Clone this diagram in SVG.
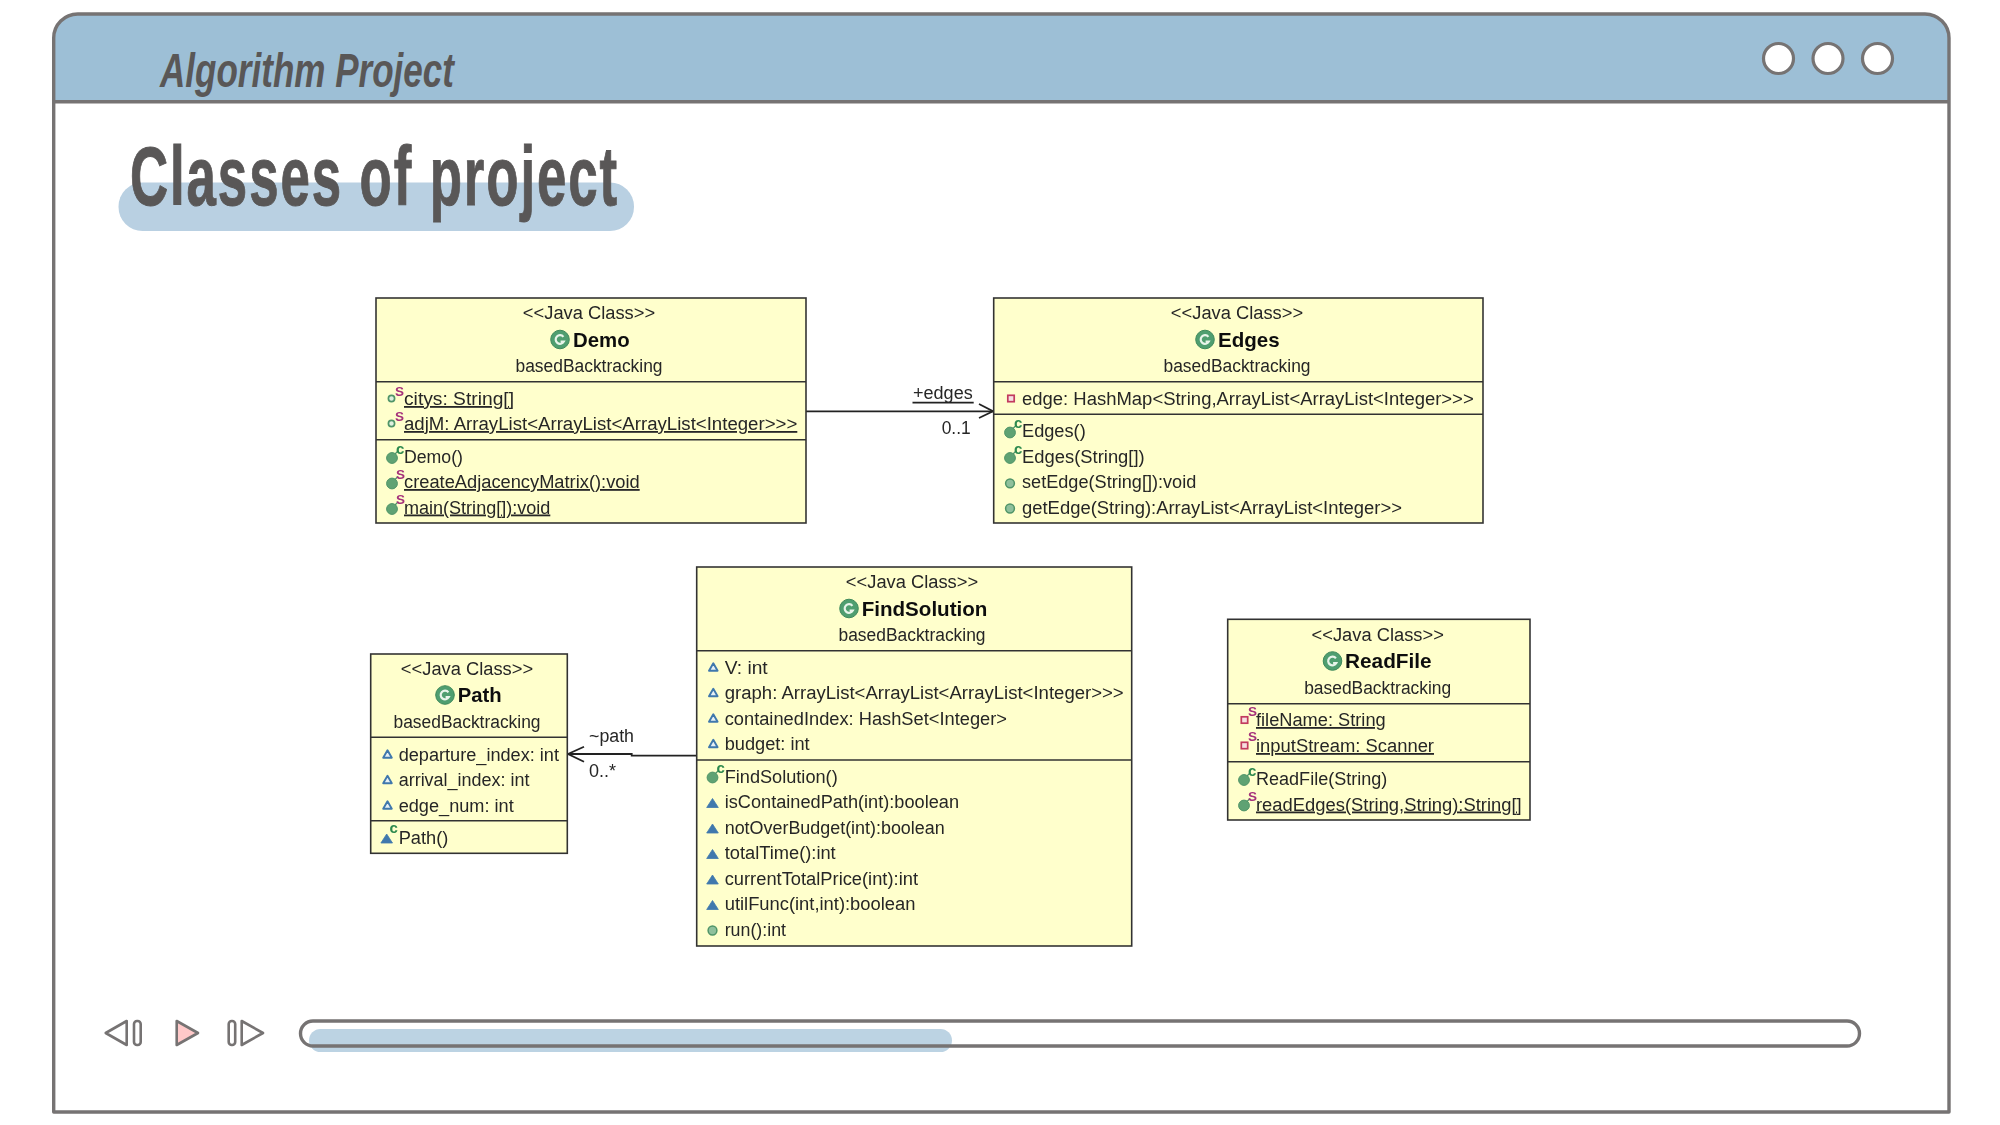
<svg xmlns="http://www.w3.org/2000/svg" width="2000" height="1125" viewBox="0 0 2000 1125">
<style>
.frame{fill:none;stroke:#767373;stroke-width:3.4;stroke-linejoin:round}
.ctl{fill:#fff;stroke:#767373;stroke-width:2.6;stroke-linejoin:round}
.box{fill:#ffffcc;stroke:#333;stroke-width:1.6}
.div{stroke:#333;stroke-width:1.6}
text{font-family:"Liberation Sans",Arial,sans-serif;fill:#262626;font-size:18px}
.h{text-anchor:middle}
.n{font-weight:700;font-size:20.5px;fill:#111}
.u{text-decoration:underline}
.big{font-weight:700;fill:#595757;font-family:"Liberation Sans Narrow","Liberation Sans",sans-serif}
.s{font-size:13.5px;fill:#a5307a;font-weight:700}
.c{font-size:15px;fill:#2f8a4f;font-weight:700}
.conn{fill:none;stroke:#222;stroke-width:1.8}
.soft{filter:url(#soft)}
</style>
<defs>
<filter id="soft" x="-5%" y="-5%" width="110%" height="110%"><feGaussianBlur stdDeviation="0.4"/></filter>
<g id="cls"><circle r="9.3" fill="#4f9e6f" stroke="#3f8a5c" stroke-width="1"/><path d="M3.4 -2.6A4.3 4.3 0 1 0 3.8 2H0.6" fill="none" stroke="#e8f4ea" stroke-width="2.2"/></g>
<g id="pubf"><circle r="3.1" fill="#dff0df" stroke="#4f9468" stroke-width="1.7"/></g>
<g id="pubm"><circle r="5.4" fill="#5fa273" stroke="#4f9468" stroke-width="1"/><path d="M3 -4L6 -7" stroke="#4f9468" stroke-width="1.2"/></g>
<g id="pubm2"><circle r="4.4" fill="#8fc09c" stroke="#4f9468" stroke-width="1.5"/></g>
<g id="prif"><rect x="-3.2" y="-3.2" width="6.4" height="6.4" fill="#f6dfe0" stroke="#c23a5f" stroke-width="1.7"/></g>
<g id="tri0"><path d="M0 -4.2L4.3 3.2H-4.3Z" fill="#e6f0f6" stroke="#3f78ad" stroke-width="1.9" stroke-linejoin="round"/></g>
<g id="tri1"><path d="M0 -5L5.8 4H-5.8Z" fill="#3f78ad" stroke="#3f78ad" stroke-width="0.8" stroke-linejoin="round"/></g>
</defs>

<g id="window">
<rect x="53.7" y="14" width="1895.3" height="1098" fill="#fff" stroke="none"/>
<path d="M53.7 101.7V38A24 24 0 0 1 77.7 14H1925A24 24 0 0 1 1949 38V101.7Z" fill="#9dbfd6"/>
<path class="frame" d="M53.7 1112V38A24 24 0 0 1 77.7 14H1925A24 24 0 0 1 1949 38V1112Z"/>
<line class="frame" x1="53.7" y1="101.7" x2="1949" y2="101.7"/>
<circle cx="1778.5" cy="58.5" r="15" class="ctl" style="stroke-width:3.2"/>
<circle cx="1828" cy="58.5" r="15" class="ctl" style="stroke-width:3.2"/>
<circle cx="1877.5" cy="58.5" r="15" class="ctl" style="stroke-width:3.2"/>
<text class="big" x="160" y="87" style="font-size:49px;font-style:italic" textLength="294" lengthAdjust="spacingAndGlyphs">Algorithm Project</text>
<rect x="118.5" y="182.5" width="515.5" height="48.5" rx="24" fill="#b9d0e2"/>
<text class="big" x="130" y="205" style="font-size:84px;letter-spacing:3px;stroke:#595757;stroke-width:1px" textLength="489" lengthAdjust="spacingAndGlyphs">Classes of project</text>
</g>

<g id="player">
<path class="ctl" d="M105.7 1033L126.7 1021V1045Z"/>
<rect class="ctl" x="134" y="1021" width="6.7" height="24" rx="3"/>
<path class="ctl" style="fill:#ffc9c9" d="M176.7 1021L198 1033L176.7 1045Z"/>
<rect class="ctl" x="228.7" y="1021" width="6.5" height="24" rx="3"/>
<path class="ctl" d="M241.7 1021L263 1033L241.7 1045Z"/>
<rect x="300.5" y="1021" width="1559" height="25" rx="12.5" fill="#fff"/>
<rect x="309" y="1029" width="643" height="23" rx="11.5" fill="#bcd3e3"/>
<rect x="300.5" y="1021" width="1559" height="25" rx="12.5" fill="none" stroke="#767373" stroke-width="3.4"/>
</g>

<g id="connectors" class="soft">
<path class="conn" d="M806 411.3H993"/>
<path class="conn" d="M979 404L993 411.3L979 418"/>
<path class="conn" d="M696.7 755.7H631.7V754H568"/>
<path class="conn" d="M584 746.7L568 754L584 761.7"/>
<path class="conn" d="M912.5 402.7H973.7"/>
<text x="913" y="399.3" textLength="59.7" lengthAdjust="spacingAndGlyphs">+edges</text>
<text x="941.7" y="434.3" textLength="29" lengthAdjust="spacingAndGlyphs">0..1</text>
<text x="589" y="742.3" textLength="45" lengthAdjust="spacingAndGlyphs">~path</text>
<text x="589" y="777.3" textLength="27" lengthAdjust="spacingAndGlyphs">0..*</text>
</g>

<g id="Demo" class="soft">
<rect class="box" x="376" y="298" width="430" height="225"/>
<line class="div" x1="376" y1="381.7" x2="806" y2="381.7"/>
<line class="div" x1="376" y1="439.7" x2="806" y2="439.7"/>
<text class="h" x="589" y="319" textLength="132.3" lengthAdjust="spacingAndGlyphs">&lt;&lt;Java Class&gt;&gt;</text>
<use href="#cls" x="560" y="339.5"/>
<text class="n" x="573" y="346.5" textLength="56.7" lengthAdjust="spacingAndGlyphs">Demo</text>
<text class="h" x="589" y="372" textLength="147" lengthAdjust="spacingAndGlyphs">basedBacktracking</text>
<use href="#pubf" x="391.5" y="398.5"/><text class="s" x="395" y="395.5">S</text><text class="u" x="404" y="405" textLength="110" lengthAdjust="spacingAndGlyphs">citys: String[]</text>
<use href="#pubf" x="391.5" y="423.5"/><text class="s" x="395" y="420.5">S</text><text class="u" x="404" y="430" textLength="393.3" lengthAdjust="spacingAndGlyphs">adjM: ArrayList&lt;ArrayList&lt;ArrayList&lt;Integer&gt;&gt;&gt;</text>
<use href="#pubm" x="392" y="458"/><text class="c" x="396" y="453.5">c</text><text x="404" y="462.5" textLength="59" lengthAdjust="spacingAndGlyphs">Demo()</text>
<use href="#pubm" x="392" y="483.5"/><text class="s" x="396" y="478.5">S</text><text class="u" x="404" y="488" textLength="235.7" lengthAdjust="spacingAndGlyphs">createAdjacencyMatrix():void</text>
<use href="#pubm" x="392" y="509"/><text class="s" x="396" y="504">S</text><text class="u" x="404" y="513.5" textLength="146.3" lengthAdjust="spacingAndGlyphs">main(String[]):void</text>
</g>

<g id="Edges" class="soft">
<rect class="box" x="993.7" y="298" width="489.3" height="225"/>
<line class="div" x1="993.7" y1="381.7" x2="1483" y2="381.7"/>
<line class="div" x1="993.7" y1="414.3" x2="1483" y2="414.3"/>
<text class="h" x="1237" y="319" textLength="132.3" lengthAdjust="spacingAndGlyphs">&lt;&lt;Java Class&gt;&gt;</text>
<use href="#cls" x="1205" y="339.5"/>
<text class="n" x="1218" y="346.5" textLength="61.7" lengthAdjust="spacingAndGlyphs">Edges</text>
<text class="h" x="1237" y="372" textLength="147" lengthAdjust="spacingAndGlyphs">basedBacktracking</text>
<use href="#prif" x="1011" y="398.5"/><text x="1022" y="404.7" textLength="451.7" lengthAdjust="spacingAndGlyphs">edge: HashMap&lt;String,ArrayList&lt;ArrayList&lt;Integer&gt;&gt;&gt;</text>
<use href="#pubm" x="1010" y="432.5"/><text class="c" x="1014" y="428">c</text><text x="1022" y="437" textLength="63.7" lengthAdjust="spacingAndGlyphs">Edges()</text>
<use href="#pubm" x="1010" y="458"/><text class="c" x="1014" y="453.5">c</text><text x="1022" y="462.5" textLength="122.7" lengthAdjust="spacingAndGlyphs">Edges(String[])</text>
<use href="#pubm2" x="1010" y="483.3"/><text x="1022" y="488" textLength="174.3" lengthAdjust="spacingAndGlyphs">setEdge(String[]):void</text>
<use href="#pubm2" x="1010" y="508.5"/><text x="1022" y="513.5" textLength="380" lengthAdjust="spacingAndGlyphs">getEdge(String):ArrayList&lt;ArrayList&lt;Integer&gt;&gt;</text>
</g>

<g id="FindSolution" class="soft">
<rect class="box" x="696.7" y="567" width="435" height="379"/>
<line class="div" x1="696.7" y1="650.7" x2="1131.7" y2="650.7"/>
<line class="div" x1="696.7" y1="760" x2="1131.7" y2="760"/>
<text class="h" x="912" y="587.7" textLength="132.3" lengthAdjust="spacingAndGlyphs">&lt;&lt;Java Class&gt;&gt;</text>
<use href="#cls" x="849" y="608.5"/>
<text class="n" x="861.7" y="615.5" textLength="125.7" lengthAdjust="spacingAndGlyphs">FindSolution</text>
<text class="h" x="912" y="641" textLength="147" lengthAdjust="spacingAndGlyphs">basedBacktracking</text>
<use href="#tri0" x="713.3" y="667.5"/><text x="724.7" y="673.5" textLength="43" lengthAdjust="spacingAndGlyphs">V: int</text>
<use href="#tri0" x="713.3" y="693"/><text x="724.7" y="699.2" textLength="399" lengthAdjust="spacingAndGlyphs">graph: ArrayList&lt;ArrayList&lt;ArrayList&lt;Integer&gt;&gt;&gt;</text>
<use href="#tri0" x="713.3" y="718.5"/><text x="724.7" y="724.7" textLength="282.3" lengthAdjust="spacingAndGlyphs">containedIndex: HashSet&lt;Integer&gt;</text>
<use href="#tri0" x="713.3" y="744"/><text x="724.7" y="750.2" textLength="85" lengthAdjust="spacingAndGlyphs">budget: int</text>
<use href="#pubm" x="712.5" y="777.5"/><text class="c" x="716.5" y="773">c</text><text x="724.7" y="782.8" textLength="113" lengthAdjust="spacingAndGlyphs">FindSolution()</text>
<use href="#tri1" x="712.5" y="803.5"/><text x="724.7" y="808.3" textLength="234.3" lengthAdjust="spacingAndGlyphs">isContainedPath(int):boolean</text>
<use href="#tri1" x="712.5" y="829"/><text x="724.7" y="833.8" textLength="220" lengthAdjust="spacingAndGlyphs">notOverBudget(int):boolean</text>
<use href="#tri1" x="712.5" y="854.5"/><text x="724.7" y="859.3" textLength="111" lengthAdjust="spacingAndGlyphs">totalTime():int</text>
<use href="#tri1" x="712.5" y="880"/><text x="724.7" y="884.8" textLength="193.3" lengthAdjust="spacingAndGlyphs">currentTotalPrice(int):int</text>
<use href="#tri1" x="712.5" y="905.5"/><text x="724.7" y="910.3" textLength="190.7" lengthAdjust="spacingAndGlyphs">utilFunc(int,int):boolean</text>
<use href="#pubm2" x="712.5" y="930.5"/><text x="724.7" y="935.8" textLength="61.3" lengthAdjust="spacingAndGlyphs">run():int</text>
</g>

<g id="Path" class="soft">
<rect class="box" x="370.7" y="654" width="196.6" height="199.3"/>
<line class="div" x1="370.7" y1="737.3" x2="567.3" y2="737.3"/>
<line class="div" x1="370.7" y1="820.7" x2="567.3" y2="820.7"/>
<text class="h" x="467" y="675" textLength="132.3" lengthAdjust="spacingAndGlyphs">&lt;&lt;Java Class&gt;&gt;</text>
<use href="#cls" x="445" y="695"/>
<text class="n" x="457.7" y="702" textLength="44" lengthAdjust="spacingAndGlyphs">Path</text>
<text class="h" x="467" y="728" textLength="147" lengthAdjust="spacingAndGlyphs">basedBacktracking</text>
<use href="#tri0" x="387.5" y="754.5"/><text x="398.7" y="760.5" textLength="160.3" lengthAdjust="spacingAndGlyphs">departure_index: int</text>
<use href="#tri0" x="387.5" y="780"/><text x="398.7" y="786" textLength="130.7" lengthAdjust="spacingAndGlyphs">arrival_index: int</text>
<use href="#tri0" x="387.5" y="805.5"/><text x="398.7" y="811.5" textLength="115" lengthAdjust="spacingAndGlyphs">edge_num: int</text>
<use href="#tri1" x="386.7" y="839"/><text class="c" x="389.5" y="833">c</text><text x="398.7" y="843.5" textLength="49.7" lengthAdjust="spacingAndGlyphs">Path()</text>
</g>

<g id="ReadFile" class="soft">
<rect class="box" x="1227.7" y="619.3" width="302.3" height="200.7"/>
<line class="div" x1="1227.7" y1="703.7" x2="1530" y2="703.7"/>
<line class="div" x1="1227.7" y1="761.7" x2="1530" y2="761.7"/>
<text class="h" x="1377.7" y="640.5" textLength="132.3" lengthAdjust="spacingAndGlyphs">&lt;&lt;Java Class&gt;&gt;</text>
<use href="#cls" x="1332.5" y="661"/>
<text class="n" x="1345" y="668" textLength="86.7" lengthAdjust="spacingAndGlyphs">ReadFile</text>
<text class="h" x="1377.7" y="693.5" textLength="147" lengthAdjust="spacingAndGlyphs">basedBacktracking</text>
<use href="#prif" x="1244.5" y="720"/><text class="s" x="1248" y="715.5">S</text><text class="u" x="1256" y="726" textLength="129.7" lengthAdjust="spacingAndGlyphs">fileName: String</text>
<use href="#prif" x="1244.5" y="745.5"/><text class="s" x="1248" y="741">S</text><text class="u" x="1256" y="752" textLength="178" lengthAdjust="spacingAndGlyphs">inputStream: Scanner</text>
<use href="#pubm" x="1244" y="780"/><text class="c" x="1248" y="775.5">c</text><text x="1256" y="784.5" textLength="131.3" lengthAdjust="spacingAndGlyphs">ReadFile(String)</text>
<use href="#pubm" x="1244" y="805.5"/><text class="s" x="1248" y="800.5">S</text><text class="u" x="1256" y="810.5" textLength="265.7" lengthAdjust="spacingAndGlyphs">readEdges(String,String):String[]</text>
</g>
</svg>
